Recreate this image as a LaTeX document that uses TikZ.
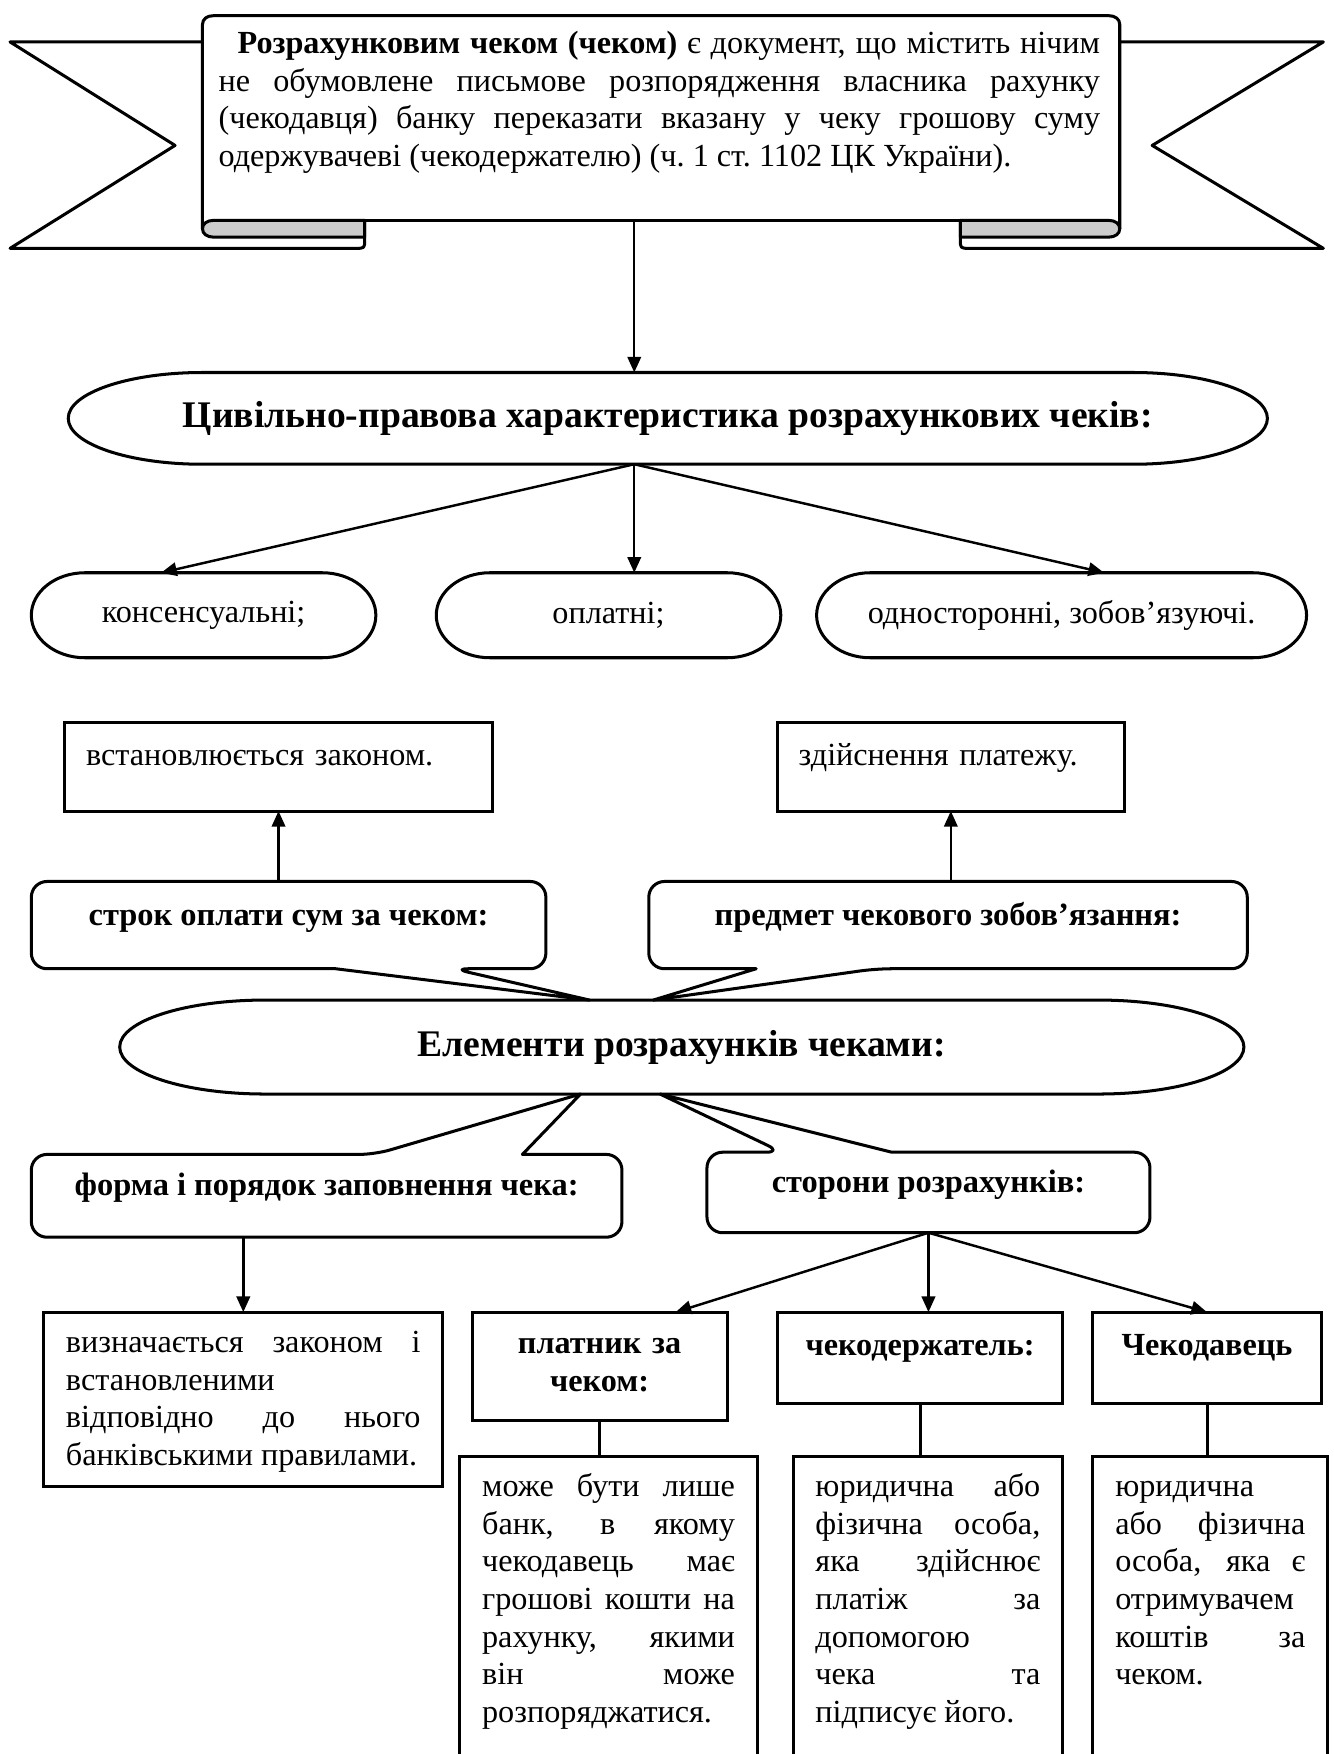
\documentclass[tikz,border=0pt]{standalone}
\usepackage{fontspec}
\setmainfont{Liberation Serif}
\usetikzlibrary{arrows.meta}

\begin{document}
\begin{tikzpicture}[x=0.5pt,y=-0.5pt,>={Triangle[length=7pt,width=6pt]},
  font=\fontsize{14.4}{16.8}\selectfont,
  frame/.style={line width=1.35pt,line join=round},
  arr/.style={->,line width=1.1pt},
  link/.style={line width=1.35pt},
  ovaltext/.style={font=\fontsize{16.8}{19}\selectfont\bfseries,inner sep=0pt,outer sep=0pt},
  pill/.style={inner sep=0pt,outer sep=0pt,minimum height=38pt},
  calltext/.style={font=\fontsize{14.5}{16.8}\selectfont\bfseries,inner sep=0pt,outer sep=0pt,text height=5pt,text depth=5pt},
  textbox/.style={draw,line width=1.35pt,anchor=north west,inner xsep=10pt,inner ysep=0pt,outer sep=0pt,align=justify,text height=18pt},
  headbox/.style={textbox,font=\fontsize{14.4}{16.8}\selectfont\bfseries,inner xsep=5pt,align=center}]
  \useasboundingbox (0,0) rectangle (1192,1568);
  % ribbon with the definition
  \draw[frame] (181,37.5) -- (9,37.5) -- (156.5,130) -- (9,222) -- (318,222) .. controls (326,222) .. (326,214) -- (326,197);
  \draw[frame] (1001,37.5) -- (1183,37.5) -- (1030,130) -- (1183,222) -- (866.5,222) .. controls (858.5,222) .. (858.5,214) -- (858.5,197);
  \filldraw[frame,fill=gray!40] (326,197) -- (191,197) .. controls (185,197) and (181,200) .. (181,204.5) .. controls (181,209) and (185,212) .. (191,212) -- (326,212) -- cycle;
  \filldraw[frame,fill=gray!40] (858.5,197) -- (991,197) .. controls (997,197) and (1001,200) .. (1001,204.5) .. controls (1001,209) and (997,212) .. (991,212) -- (858.5,212) -- cycle;
  \draw[frame] (181,204.5) -- (181,22) .. controls (181,17) and (185,14) .. (191,14) -- (991,14) .. controls (997,14) and (1001,17) .. (1001,22) -- (1001,204.5);
  \draw[frame] (326,197) -- (858.5,197);
  \coordinate (pb) at (567,197);
  \node[anchor=north west,inner sep=0pt,text width=394pt,align=justify,text height=10pt] (def) at (195,27.5) {\hspace*{8.5pt}\textbf{Розрахунковим чеком (чеком)} є документ, що містить нічим\linebreak не обумовлене письмове розпорядження власника рахунку\linebreak (чекодавця) банку переказати вказану у чеку грошову суму\linebreak одержувачеві (чекодержателю) (ч.~1 ст.~1102 ЦК України).};

  % civil-law features
  \node[ovaltext,minimum width=536pt,minimum height=41pt] (civ) at (597,374) {Цивільно-правова характеристика розрахункових чеків:};
  \draw[frame] ([xshift=60pt]civ.north west) -- ([xshift=-60pt]civ.north east) arc[start angle=90,end angle=-90,x radius=60pt,y radius=20.5pt] -- ([xshift=60pt]civ.south west) arc[start angle=270,end angle=90,x radius=60pt,y radius=20.5pt] -- cycle;
  \node[pill,minimum width=154pt] (cons) at (182,550) {консенсуальні;};
  \node[pill,minimum width=154pt] (paid) at (544,550) {оплатні;};
  \node[pill,minimum width=219pt] (uni) at (949,550) {односторонні, зобов’язуючі.};
  \draw[frame] ([xshift=24pt]cons.north west) -- ([xshift=-24pt]cons.north east) arc[start angle=90,end angle=-90,x radius=24pt,y radius=19pt] -- ([xshift=24pt]cons.south west) arc[start angle=270,end angle=90,x radius=24pt,y radius=19pt] -- cycle;
  \draw[frame] ([xshift=24pt]paid.north west) -- ([xshift=-24pt]paid.north east) arc[start angle=90,end angle=-90,x radius=24pt,y radius=19pt] -- ([xshift=24pt]paid.south west) arc[start angle=270,end angle=90,x radius=24pt,y radius=19pt] -- cycle;
  \draw[frame] ([xshift=24pt]uni.north west) -- ([xshift=-24pt]uni.north east) arc[start angle=90,end angle=-90,x radius=24pt,y radius=19pt] -- ([xshift=24pt]uni.south west) arc[start angle=270,end angle=90,x radius=24pt,y radius=19pt] -- cycle;
  \draw[arr] (pb) -- (pb |- civ.north);
  \draw[arr] (pb |- civ.south) -- ([xshift=-19pt]cons.north);
  \draw[arr] (pb |- civ.south) -- (pb |- paid.north);
  \draw[arr] (pb |- civ.south) -- ([xshift=19pt]uni.north);

  % elements of the settlement
  \node[ovaltext,minimum width=502.5pt,minimum height=42pt] (elem) at (609.5,936) {Елементи розрахунків чеками:};
  \draw[frame] ([xshift=65pt]elem.north west) -- ([xshift=-65pt]elem.north east) arc[start angle=90,end angle=-90,x radius=65pt,y radius=21pt] -- ([xshift=65pt]elem.south west) arc[start angle=270,end angle=90,x radius=65pt,y radius=21pt] -- cycle;

  \node[calltext,minimum width=230pt,minimum height=39pt] (term) at (258,827) {строк оплати сум за чеком:};
  \draw[frame] (term.west) [rounded corners=7pt] -- (term.north west) -- (term.north east) -- (term.south east) -- ([xshift=73.5pt]term.south) [sharp corners] -- ([xshift=-41.25pt]elem.north) -- ([xshift=21pt]term.south) [rounded corners=7pt] -- (term.south west) -- cycle;
  \node[calltext,minimum width=267.5pt,minimum height=39pt] (subj) at (847.5,827) {предмет чекового зобов’язання:};
  \draw[frame] (subj.west) [rounded corners=7pt] -- (subj.north west) -- (subj.north east) -- (subj.south east) -- ([xshift=-32.25pt]subj.south) [sharp corners] -- ([xshift=-12.75pt]elem.north) -- ([xshift=-85.75pt]subj.south) [rounded corners=7pt] -- (subj.south west) -- cycle;
  \node[textbox,inner xsep=9.5pt,text width=172pt,align=left,text height=19pt,text depth=20.5pt] (termtxt) at (58,646) {встановлюється законом.};
  \node[textbox,inner xsep=9.5pt,text width=136pt,align=left,text height=19pt,text depth=20.5pt] (subjtxt) at (695,646) {здійснення платежу.};
  \draw[arr] (term.north -| termtxt.south) -- (termtxt.south);
  \draw[arr] (subj.north -| subjtxt.south) -- (subjtxt.south);

  \node[calltext,minimum width=264pt,minimum height=37pt] (form) at (292,1069) {форма і порядок заповнення чека:};
  \draw[frame] (form.west) [rounded corners=7pt] -- (form.north west) -- ([xshift=21.5pt]form.north) [sharp corners] -- ([xshift=-45.25pt]elem.south) -- ([xshift=87.5pt]form.north) [rounded corners=7pt] -- (form.north east) -- (form.south east) -- (form.south west) -- cycle;
  \node[calltext,minimum width=198pt,minimum height=36pt] (sides) at (830,1066) {сторони розрахунків:};
  \draw[frame] (sides.west) [rounded corners=7pt] -- (sides.north west) -- ([xshift=-65.5pt]sides.north) [sharp corners] -- ([xshift=-9.75pt]elem.south) -- ([xshift=-16.5pt]sides.north) [rounded corners=7pt] -- (sides.north east) -- (sides.south east) -- (sides.south west) -- cycle;

  \node[textbox,text width=158.5pt,text depth=60pt] (formtxt) at (39,1173) {визначається законом і\linebreak встановленими\\ відповідно до нього\linebreak банківськими правилами.};
  \draw[arr] (form.south -| formtxt.north) -- (formtxt.north);

  \node[headbox,text width=104pt,text height=18.5pt,text depth=30pt] (payer) at (422,1173) {платник за\\ чеком:};
  \node[headbox,text width=117.5pt,text height=19.5pt,text depth=21.5pt] (holder) at (695,1173) {чекодержатель:};
  \node[headbox,text width=92pt,text height=19.5pt,text depth=21.5pt] (drawer) at (977,1173) {Чекодавець};
  \draw[arr] (sides.south) -- ([xshift=34pt]payer.north);
  \draw[arr] (sides.south) -- (sides.south |- holder.north);
  \draw[arr] (sides.south) -- (drawer.north);

  \node[textbox,text width=113pt,text depth=200pt] (payertxt) at (411,1302) {може бути лише\linebreak банк, в якому\linebreak чекодавець має\linebreak грошові кошти на\linebreak рахунку, якими\linebreak він може\linebreak розпоряджатися.};
  \node[textbox,text width=100.5pt,text depth=200pt] (holdertxt) at (709,1302) {юридична або\linebreak фізична особа,\linebreak яка здійснює\linebreak платіж за\linebreak допомогою\\ чека та\linebreak підписує його.};
  \node[textbox,text width=85pt,text depth=200pt] (drawertxt) at (977,1302) {юридична\\ або фізична\linebreak особа, яка є\linebreak отримувачем\\ коштів за\linebreak чеком.};
  \draw[link] (payer.south) -- (payer.south |- payertxt.north);
  \draw[link] (holder.south) -- (holder.south |- holdertxt.north);
  \draw[link] (drawer.south) -- (drawer.south |- drawertxt.north);
\end{tikzpicture}
\end{document}
